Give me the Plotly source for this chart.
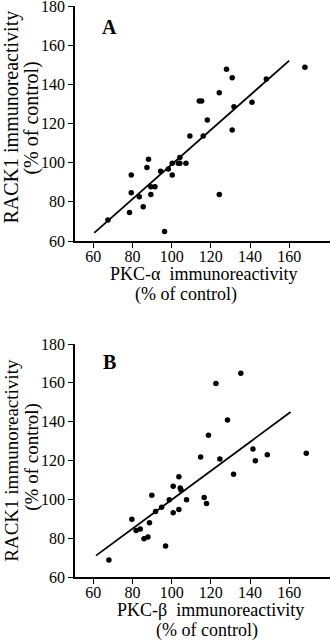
import plotly.graph_objects as go

# ---- Data: panel A (PKC-alpha vs RACK1) ----
pkc_alpha = [67.5, 78.5, 79.4, 79.4, 83.5, 85.5, 87.4, 88.2, 89.4, 89.4, 91.5, 94.4,
             96.4, 98.3, 100.3, 100.3, 103.4, 104.2, 104.2, 107.3, 109.3, 114.1, 115.3,
             116.1, 118.2, 124.3, 124.3, 128.0, 130.9, 130.9, 131.8, 141.0, 148.3, 168.0]
rack1_a = [70.7, 74.6, 93.7, 84.7, 82.6, 77.5, 97.6, 101.7, 87.7, 83.7, 87.7, 95.6,
           64.9, 96.8, 99.7, 93.7, 99.7, 99.7, 102.6, 99.7, 113.6, 131.5, 131.5,
           113.6, 121.8, 135.7, 83.8, 147.7, 143.4, 116.7, 128.6, 130.8, 142.7, 148.7]
fit_a_x = [60.5, 160]
fit_a_y = [64.2, 152.1]

# ---- Data: panel B (PKC-beta vs RACK1) ----
pkc_beta = [68.0, 79.7, 81.9, 84.0, 85.9, 87.9, 88.7, 89.9, 91.8, 94.9, 96.9, 98.8,
            100.8, 100.8, 103.7, 103.7, 104.4, 104.8, 107.6, 114.8, 116.6, 117.8, 118.8,
            122.6, 124.6, 128.5, 131.6, 135.3, 141.5, 142.7, 148.8, 168.7]
rack1_b = [68.8, 89.7, 83.9, 84.7, 79.7, 80.6, 88.0, 102.1, 93.8, 95.9, 76.0, 99.8,
           106.7, 93.1, 111.7, 94.8, 105.8, 104.8, 99.8, 121.8, 100.9, 97.9, 133.0,
           159.7, 120.8, 140.9, 112.9, 164.9, 125.9, 119.9, 123.0, 123.7]
fit_b_x = [61.4, 160.7]
fit_b_y = [71.0, 145.0]

x_ticks = [60, 80, 100, 120, 140, 160]
y_ticks = [60, 80, 100, 120, 140, 160, 180]

FONT = "Liberation Serif"

fig = go.Figure()
marker = dict(color="black", size=5.5)
fig.add_trace(go.Scatter(x=pkc_alpha, y=rack1_a, mode="markers", marker=marker,
                         xaxis="x", yaxis="y", showlegend=False))
fig.add_trace(go.Scatter(x=fit_a_x, y=fit_a_y, mode="lines", line=dict(color="black", width=1.8),
                         xaxis="x", yaxis="y", showlegend=False))
fig.add_trace(go.Scatter(x=pkc_beta, y=rack1_b, mode="markers", marker=marker,
                         xaxis="x2", yaxis="y2", showlegend=False))
fig.add_trace(go.Scatter(x=fit_b_x, y=fit_b_y, mode="lines", line=dict(color="black", width=1.8),
                         xaxis="x2", yaxis="y2", showlegend=False))

axis_common = dict(showgrid=False, zeroline=False, showline=True, linecolor="black",
                   linewidth=1.5, ticks="outside", ticklen=5, tickwidth=1.2, tickcolor="black",
                   automargin=False, ticklabeloverflow="allow",
                   tickfont=dict(family=FONT, size=16, color="black"))

fig.update_layout(
    width=330, height=640,
    margin=dict(l=75, r=0, t=6, b=63),
    plot_bgcolor="white", paper_bgcolor="white",
    xaxis=dict(domain=[0, 1], range=[50.7, 180.8], tickvals=x_ticks, anchor="y",
               ticklabelstandoff=-5, **axis_common),
    yaxis=dict(domain=[0.5884, 1], range=[60, 180], tickvals=y_ticks, anchor="x", **axis_common),
    xaxis2=dict(domain=[0, 1], range=[50.7, 180.8], tickvals=x_ticks, anchor="y2",
                ticklabelstandoff=-5, **axis_common),
    yaxis2=dict(domain=[0, 0.408], range=[60, 180], tickvals=y_ticks, anchor="x2", **axis_common),
)

def ann(text, x, y, size, angle=0, bold=False):
    fig.add_annotation(text=f"<b>{text}</b>" if bold else text, x=x, y=y, xref="paper", yref="paper",
                       xanchor="center", yanchor="middle", showarrow=False, textangle=angle,
                       font=dict(family=FONT, size=size, color="black"))

# Panel letters
ann("A", 0.137, 0.963, 20, bold=True)
ann("B", 0.137, 0.3765, 20, bold=True)

# Y titles
ann("RACK1 immunoreactivity", -0.248, 0.806, 20, angle=-90)
ann("(% of control)", -0.170, 0.804, 20, angle=-90)
ann("RACK1 immunoreactivity", -0.248, 0.205, 19, angle=-90)
ann("(% of control)", -0.170, 0.210, 19, angle=-90)

# X titles
ann("PKC-α  immunoreactivity", 0.502, 0.531, 18)
ann("(% of control)", 0.435, 0.494, 18)
ann("PKC-β  immunoreactivity", 0.533, -0.058, 18)
ann("(% of control)", 0.518, -0.093, 18)

fig.write_html("out.html", config={"displayModeBar": False},
               post_script="document.body.style.margin='0';")
